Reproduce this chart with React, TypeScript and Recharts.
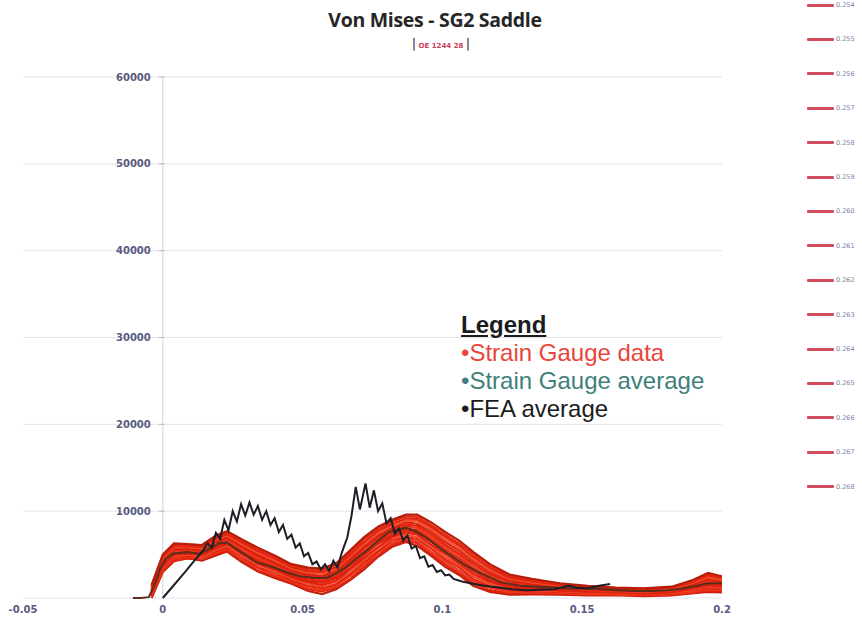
import React from "react";
import { LineChart, Line, XAxis, YAxis, CartesianGrid, ReferenceLine } from "recharts";

const W = 862;
const H = 633;
const MARGIN = { top: 77, right: 140, bottom: 15, left: 22 };
const Y_AXIS_W = 1;
const X_MIN = -0.05;
const X_MAX = 0.2;
const PLOT_LEFT = MARGIN.left + Y_AXIS_W;
const PLOT_W = W - PLOT_LEFT - MARGIN.right;
// pixel position of the vertical axis (x = 0), the y labels sit to its left
const AXIS_X = PLOT_LEFT + (PLOT_W * (0 - X_MIN)) / (X_MAX - X_MIN);

const xTicks = [-0.05, 0, 0.05, 0.1, 0.15, 0.2];
const yTicks = [0, 10000, 20000, 30000, 40000, 50000, 60000];

// strain gauge runs, one value per x in gaugeX
const gaugeX = [
  -0.004, 0, 0.004, 0.009, 0.014, 0.019, 0.023, 0.028, 0.034, 0.04, 0.046, 0.052, 0.057, 0.062, 0.067, 0.072, 0.077,
  0.082, 0.087, 0.091, 0.096, 0.101, 0.106, 0.111, 0.117, 0.124, 0.132, 0.142, 0.152, 0.162, 0.172, 0.182, 0.189,
  0.195, 0.2,
];

const gaugeNames = [
  "0.254", "0.255", "0.256", "0.257", "0.258", "0.259", "0.260", "0.261",
  "0.262", "0.263", "0.264", "0.265", "0.266", "0.267", "0.268",
];

const g254 = [0, 3000, 4250, 4600, 4300, 4900, 5350, 4200, 3050, 2300, 1650, 800, 450, 1000, 2050, 3300, 4750, 5900, 6450, 6000, 4850, 3600, 2650, 1400, 700, 400, 420, 380, 300, 320, 200, 300, 520, 700, 650];
const g255 = [150, 3200, 4350, 4550, 4500, 5100, 5450, 4450, 3150, 2500, 1750, 1000, 750, 1200, 2200, 3600, 4900, 6150, 6600, 6300, 5050, 3900, 2850, 1700, 900, 550, 500, 500, 400, 350, 280, 370, 600, 850, 720];
const g256 = [250, 3250, 4550, 4800, 4500, 5200, 5700, 4550, 3450, 2650, 1950, 1150, 900, 1450, 2550, 3800, 5250, 6300, 6900, 6500, 5300, 4200, 3150, 1950, 1200, 700, 680, 600, 450, 430, 320, 450, 700, 1000, 900];
const g257 = [300, 3450, 4650, 4850, 4750, 5400, 5800, 4800, 3550, 2900, 2050, 1400, 1100, 1600, 2750, 4100, 5400, 6600, 7050, 6800, 5650, 4450, 3500, 2200, 1350, 900, 780, 700, 530, 500, 400, 500, 850, 1150, 1000];
const g258 = [450, 3550, 4800, 5000, 4800, 5550, 6000, 4900, 3850, 3000, 2300, 1550, 1350, 1900, 2950, 4350, 5750, 6750, 7300, 7000, 5950, 4700, 3750, 2500, 1600, 1050, 900, 780, 620, 540, 470, 580, 900, 1350, 1150];
const g259 = [550, 3700, 4950, 5100, 4950, 5700, 6200, 5150, 3950, 3250, 2400, 1800, 1500, 2050, 3300, 4600, 5900, 7000, 7550, 7300, 6150, 5050, 4000, 2800, 1850, 1250, 1050, 850, 700, 620, 500, 650, 1050, 1450, 1300];
const g260 = [650, 3850, 5100, 5250, 5050, 5900, 6300, 5300, 4250, 3400, 2600, 1950, 1750, 2300, 3450, 4900, 6250, 7200, 7800, 7500, 6500, 5300, 4300, 3100, 2050, 1400, 1150, 950, 780, 690, 600, 720, 1150, 1650, 1400];
const g261 = [750, 4000, 5250, 5350, 5200, 6050, 6500, 5500, 4400, 3600, 2750, 2150, 1950, 2500, 3750, 5150, 6450, 7450, 8000, 7800, 6750, 5600, 4600, 3350, 2300, 1550, 1300, 1050, 850, 750, 650, 800, 1250, 1800, 1550];
const g262 = [850, 4150, 5400, 5450, 5350, 6200, 6700, 5650, 4600, 3800, 2900, 2350, 2150, 2700, 4000, 5400, 6700, 7650, 8250, 8050, 7000, 5900, 4900, 3600, 2550, 1700, 1450, 1150, 950, 800, 700, 870, 1350, 1950, 1700];
const g263 = [950, 4300, 5550, 5600, 5450, 6400, 6850, 5900, 4800, 3950, 3100, 2550, 2350, 2950, 4250, 5700, 6950, 7900, 8450, 8300, 7300, 6150, 5150, 3900, 2750, 1900, 1550, 1250, 1000, 880, 780, 950, 1450, 2100, 1800];
const g264 = [1050, 4400, 5700, 5700, 5600, 6550, 7000, 6050, 5000, 4150, 3250, 2700, 2550, 3150, 4500, 5950, 7200, 8100, 8700, 8550, 7600, 6450, 5450, 4200, 3000, 2050, 1700, 1330, 1100, 950, 850, 1000, 1550, 2300, 1950];
const g265 = [1200, 4550, 5850, 5850, 5700, 6700, 7200, 6250, 5200, 4350, 3400, 2900, 2800, 3350, 4750, 6200, 7450, 8350, 8900, 8850, 7850, 6750, 5750, 4450, 3200, 2200, 1800, 1420, 1150, 1000, 900, 1080, 1700, 2400, 2100];
const g266 = [1300, 4700, 6000, 5950, 5850, 6850, 7350, 6450, 5400, 4550, 3550, 3100, 3000, 3550, 5000, 6450, 7700, 8550, 9150, 9100, 8150, 7050, 6050, 4750, 3450, 2350, 1950, 1500, 1250, 1050, 950, 1150, 1800, 2600, 2250];
const g267 = [1400, 4850, 6150, 6050, 5950, 7000, 7550, 6600, 5600, 4700, 3750, 3300, 3200, 3800, 5250, 6750, 7950, 8800, 9400, 9350, 8400, 7300, 6300, 5050, 3700, 2550, 2050, 1600, 1300, 1150, 1050, 1200, 1900, 2750, 2350];
const g268 = [1500, 5000, 6300, 6200, 6100, 7200, 7700, 6800, 5800, 4900, 3900, 3500, 3400, 4000, 5500, 7000, 8200, 9000, 9600, 9600, 8700, 7600, 6600, 5300, 3900, 2700, 2200, 1700, 1400, 1200, 1100, 1300, 2000, 2900, 2500];

const gaugeSeries = [g254, g255, g256, g257, g258, g259, g260, g261, g262, g263, g264, g265, g266, g267, g268];
const gaugeColors = [
  "#c0200e", "#e4230f", "#e83a22", "#e4230f", "#ef4a2e", "#e4230f", "#d8220e", "#e4230f",
  "#ea3b20", "#e4230f", "#d8220e", "#f0502f", "#e4230f", "#e02a12", "#b81d0c",
];

// strain gauge average
const avgX = [
  -0.0107, -0.008, -0.005, -0.003, -0.001, 0.001, 0.0036, 0.0086, 0.013, 0.017, 0.02, 0.023, 0.0275, 0.0336, 0.039,
  0.044, 0.049, 0.054, 0.0586, 0.062, 0.0657, 0.069, 0.073, 0.077, 0.081, 0.087, 0.091, 0.094, 0.098, 0.1025, 0.108,
  0.114, 0.121, 0.128, 0.1336, 0.14, 0.145, 0.151, 0.157, 0.163, 0.169, 0.175, 0.181, 0.186, 0.191, 0.195, 0.2,
];
const avgY = [
  0, 0, 100, 1500, 3300, 4500, 5100, 5300, 5100, 5700, 6300, 6400, 5400, 4100, 3600, 3000, 2500, 2300, 2300, 2800,
  3600, 4500, 5500, 6600, 7600, 8100, 7600, 7000, 6000, 5000, 3800, 2800, 1800, 1400, 1300, 1200, 1100, 1100, 1000,
  900, 800, 800, 900, 1100, 1400, 1700, 1700,
];

// FEA average
const feaX = [
  0, 0.004, 0.008, 0.011, 0.014, 0.016, 0.0175, 0.019, 0.0205, 0.022, 0.0235, 0.025, 0.0265, 0.028, 0.0295, 0.031,
  0.0325, 0.034, 0.0355, 0.037, 0.0385, 0.04, 0.0415, 0.043, 0.0445, 0.046, 0.0475, 0.049, 0.0505, 0.052, 0.0535,
  0.055, 0.0565, 0.058, 0.0595, 0.061, 0.0625, 0.064, 0.066, 0.0675, 0.069, 0.0705, 0.0725, 0.074, 0.0755, 0.077,
  0.0785, 0.08, 0.0815, 0.083, 0.0845, 0.086, 0.0875, 0.089, 0.0905, 0.092, 0.0935, 0.095, 0.0965, 0.098, 0.0995,
  0.101, 0.1025, 0.104, 0.107, 0.11, 0.115, 0.12, 0.125, 0.13, 0.135, 0.14, 0.145, 0.148, 0.152, 0.156, 0.16,
];
const feaY = [
  0, 1500, 3000, 4200, 5300, 6300, 5800, 7500, 6800, 9000, 7800, 10000, 8800, 10800, 9500, 11000, 9600, 10600, 9000,
  10000, 8400, 9200, 7600, 8400, 6800, 7300, 5800, 6300, 4800, 5200, 3900, 4200, 3300, 3900, 3100, 4300, 3500, 5200,
  7000, 9500, 12800, 10200, 13200, 10400, 12400, 10000, 10900, 8600, 9200, 7400, 8000, 6600, 7200, 5700, 6000, 4600,
  4800, 3600, 3800, 3000, 3200, 2600, 2700, 2200, 1900, 1700, 1400, 1200, 1000, 900, 950, 1000, 1400, 1200, 1100,
  1400, 1600,
];

const gaugeRows = gaugeX.map((x, i) => {
  const row: Record<string, number> = { x };
  gaugeNames.forEach((n, k) => {
    row[n] = gaugeSeries[k][i];
  });
  return row;
});
const avgRows = avgX.map((x, i) => ({ x, y: avgY[i] }));
const feaRows = feaX.map((x, i) => ({ x, y: feaY[i] }));

const TICK_COLOR = "#5a5a80";

const fmtX = (v: number) => String(v);

// eslint-disable-next-line @typescript-eslint/no-explicit-any
const renderYTick = (props: any) => {
  const { y, payload } = props;
  if (payload.value === 0) return <g />;
  return (
    <g>
      <text
        x={AXIS_X - 12}
        y={y}
        dy={3.5}
        textAnchor="end"
        fill={TICK_COLOR}
        fontSize={10}
        fontWeight={700}
        fontFamily="DejaVu Sans"
      >
        {payload.value}
      </text>
      <line x1={AXIS_X - 4} x2={AXIS_X + 2} y1={y} y2={y} stroke="#b8b8cc" />
    </g>
  );
};

export default function App() {
  return (
    <div style={{ position: "absolute", left: 0, top: 0, width: W, height: H, background: "#fff", overflow: "hidden" }}>
      <div
        style={{
          position: "absolute",
          left: 4,
          top: 6,
          width: W,
          textAlign: "center",
          fontFamily: "'Open Sans', sans-serif",
          fontWeight: 700,
          fontSize: 19.5,
          letterSpacing: -0.3,
          color: "#262626",
        }}
      >
        Von Mises - SG2 Saddle
      </div>
      <div
        style={{
          position: "absolute",
          left: 10,
          top: 38,
          width: W,
          textAlign: "center",
          fontFamily: "'DejaVu Sans', sans-serif",
          fontSize: 7,
          fontWeight: 700,
          color: "#c8405a",
          lineHeight: "12px",
        }}
      >
        <span style={{ color: "#5a4a5a", fontSize: 12 }}>|</span> OE 1244 28{" "}
        <span style={{ color: "#5a4a5a", fontSize: 12 }}>|</span>
      </div>

      <LineChart width={W} height={H} data={gaugeRows} margin={MARGIN}>
        <CartesianGrid horizontal vertical={false} stroke="#e4e4ec" />
        <XAxis
          type="number"
          dataKey="x"
          domain={[X_MIN, X_MAX]}
          ticks={xTicks}
          tickFormatter={fmtX}
          axisLine={false}
          tickLine={false}
          height={20}
          allowDataOverflow
          tick={{ fill: TICK_COLOR, fontSize: 10, fontWeight: 700, fontFamily: "DejaVu Sans" }}
        />
        <YAxis
          type="number"
          domain={[0, 60000]}
          ticks={yTicks}
          width={Y_AXIS_W}
          interval={0}
          axisLine={false}
          tickLine={false}
          tick={renderYTick}
        />
        <ReferenceLine x={0} stroke="#d4d4e0" />
        {gaugeNames.map((n, k) => (
          <Line
            key={n}
            dataKey={n}
            stroke={gaugeColors[k]}
            strokeWidth={2.2}
            dot={false}
            isAnimationActive={false}
          />
        ))}
        <Line data={avgRows} dataKey="y" stroke="#5a2e1c" strokeWidth={2} dot={false} isAnimationActive={false} />
        <Line data={feaRows} dataKey="y" stroke="#1e1e26" strokeWidth={2} dot={false} isAnimationActive={false} />
      </LineChart>

      {/* series legend on the right */}
      <div style={{ position: "absolute", left: 807, top: 0 }}>
        {gaugeNames.map((n, i) => (
          <div
            key={n}
            style={{
              position: "absolute",
              top: 1 + i * 34.4,
              left: 0,
              display: "flex",
              alignItems: "center",
              height: 8,
              whiteSpace: "nowrap",
            }}
          >
            <div style={{ width: 27, height: 3, background: "#d24c5e", borderRadius: 1 }} />
            <span
              style={{
                marginLeft: 2,
                fontSize: 6.5,
                fontFamily: "'DejaVu Sans', sans-serif",
                color: "#8080a8",
              }}
            >
              {n}
            </span>
          </div>
        ))}
      </div>

      {/* text legend inside plot */}
      <div
        style={{
          position: "absolute",
          left: 461,
          top: 311,
          fontFamily: "'Liberation Sans', Arial, sans-serif",
          fontSize: 24,
          lineHeight: "28px",
          whiteSpace: "nowrap",
        }}
      >
        <div style={{ fontWeight: 700, textDecoration: "underline", color: "#1c1c1c" }}>Legend</div>
        <div style={{ color: "#e8463a" }}>•Strain Gauge data</div>
        <div style={{ color: "#3e7f7a" }}>•Strain Gauge average</div>
        <div style={{ color: "#1c1c1c" }}>•FEA average</div>
      </div>
    </div>
  );
}
